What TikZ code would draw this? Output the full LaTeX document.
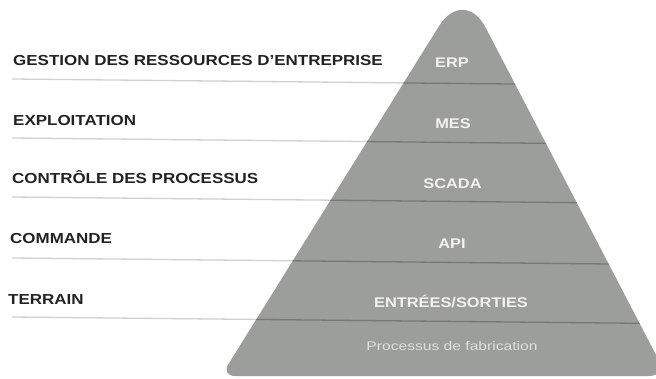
\documentclass[tikz,border=0pt]{standalone}
\usepackage{fontspec}
\setmainfont{Liberation Sans}
\definecolor{pyr}{RGB}{156,158,155}
\definecolor{pyrline}{RGB}{118,120,117}
\definecolor{outline}{RGB}{208,208,206}
\definecolor{lbl}{RGB}{34,34,34}
\definecolor{intxt}{RGB}{242,242,240}
\definecolor{proctxt}{RGB}{222,224,221}
\tikzset{
  lefttxt/.style={anchor=base west, inner sep=0pt, text=lbl, font=\fontsize{14.5}{16}\selectfont\bfseries, xscale=1.17, transform shape},
  intext/.style={anchor=base, inner sep=0pt, text=intxt, font=\fontsize{14}{16}\selectfont\bfseries, xscale=1.17, transform shape},
  proctext/.style={anchor=base, inner sep=0pt, text=proctxt, font=\fontsize{12.5}{14}\selectfont, xscale=1.25, transform shape},
  levelline/.style={draw=outline, line width=1.3pt},
  innerline/.style={draw=pyrline, line width=1.3pt}
}
\begin{document}
\begin{tikzpicture}[x=1pt,y=-1pt]
\useasboundingbox (0,0) rectangle (656,379);
\fill[white] (0,0) rectangle (656,379);
% coordinates
\coordinate (apex) at (464,-14);
\coordinate (bl) at (221,376);
\coordinate (br) at (667,376);
\coordinate (bm) at (444,376);
% level lines (outside, light), ending under the pyramid
\foreach \y in {79,138,197,258,317}{
  \draw[levelline] (12,\y) -- (452,\y+4.4);
}
% pyramid
\fill[pyr] (bm) [rounded corners=14pt] -- (bl) [rounded corners=47pt] -- (apex) [rounded corners=18pt] -- (br) [sharp corners] -- cycle;
% inner lines
\begin{scope}
\clip (bm) [rounded corners=14pt] -- (bl) [rounded corners=47pt] -- (apex) [rounded corners=18pt] -- (br) [sharp corners] -- cycle;
\foreach \y in {79,138,197,258,317}{
  \draw[innerline] (12,\y) -- (660,\y+6.5);
}
\end{scope}
% left labels
\node[lefttxt] (l1) at (13,66) {GESTION DES RESSOURCES D’ENTREPRISE};
\node[lefttxt] (l2) at (13,126) {EXPLOITATION};
\node[lefttxt] (l3) at (12,184) {CONTRÔLE DES PROCESSUS};
\node[lefttxt] (l4) at (10,244) {COMMANDE};
\node[lefttxt] (l5) at (8,305) {TERRAIN};
% inner labels
\node[intext] (erp) at (452,68) {ERP};
\node[intext] (mes) at (453,129) {MES};
\node[intext] (scada) at (452.5,189) {SCADA};
\node[intext] (api) at (452,249) {API};
\node[intext] (es) at (451,308) {ENTRÉES/SORTIES};
\node[proctext] (proc) at (452,350) {Processus de fabrication};
\end{tikzpicture}
\end{document}
